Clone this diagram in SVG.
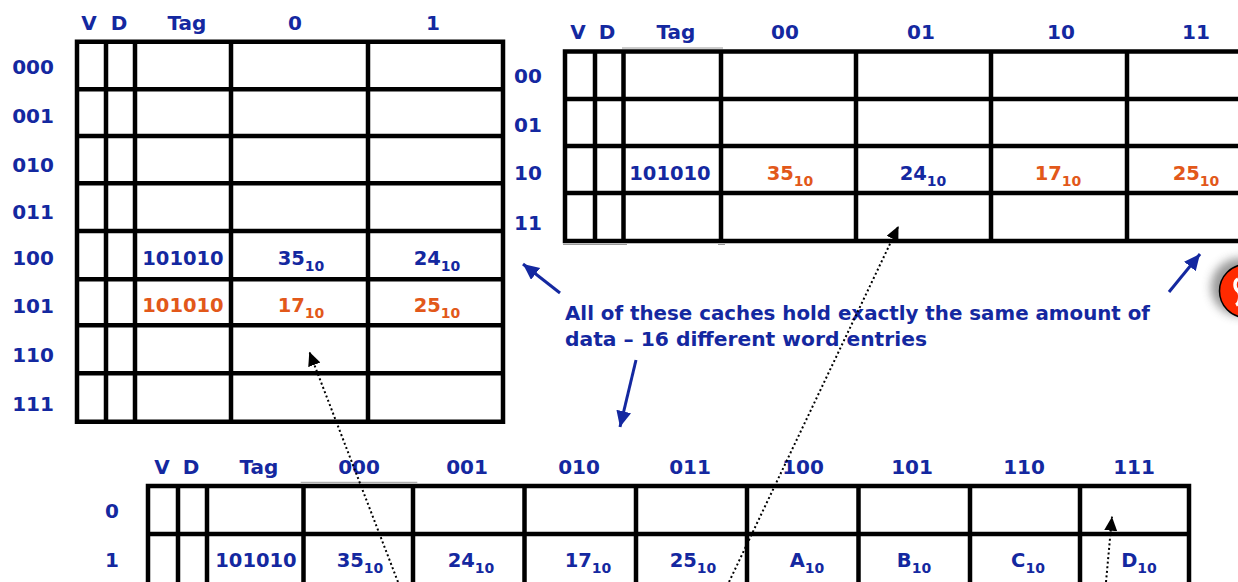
<svg xmlns="http://www.w3.org/2000/svg" width="1238" height="582" viewBox="0 0 1238 582">
<defs>
<style>
.grid{fill:none;stroke:#000;stroke-width:4.5;stroke-linecap:square}
.thin{fill:none;stroke:#9a9a9a;stroke-width:1}
text{font-family:"DejaVu Sans","Liberation Sans",sans-serif;font-weight:bold;fill:#1428a0}
.h{font-size:20px;text-anchor:middle}
.c{font-size:19.5px;text-anchor:middle}
.o{fill:#e2581a}
.s{font-size:14px}
.note{font-size:19px}
.dot{fill:none;stroke:#000;stroke-width:2;stroke-dasharray:2 2.6}
.blue{fill:none;stroke:#1428a0;stroke-width:3}
</style>
<marker id="ah" markerUnits="userSpaceOnUse" markerWidth="16" markerHeight="16" refX="14" refY="6.5" orient="auto">
<path d="M0,0 L14,6.5 L0,13 Z" fill="#000"/>
</marker>
<marker id="bh" markerUnits="userSpaceOnUse" markerWidth="18" markerHeight="18" refX="16" refY="7.5" orient="auto">
<path d="M0,0 L16,7.5 L0,15 Z" fill="#1428a0"/>
</marker>
<filter id="blur" x="-50%" y="-50%" width="200%" height="200%">
<feGaussianBlur stdDeviation="5"/>
</filter>
</defs>
<rect width="1238" height="582" fill="#fff"/>

<g id="cache-8x2">
<path class="grid" d="M77 41.7H503M77 89.3H503M77 136H503M77 183.3H503M77 231H503M77 279.3H503M77 325.3H503M77 373.3H503M77 421.7H503M77 41.7V421.7M106 41.7V421.7M135 41.7V421.7M231 41.7V421.7M368 41.7V421.7M503 41.7V421.7"/>
<text class="h" x="89" y="30">V</text>
<text class="h" x="119" y="30">D</text>
<text class="h" x="187" y="30">Tag</text>
<text class="h" x="295" y="30">0</text>
<text class="h" x="433" y="30">1</text>
<text class="h" x="33" y="74">000</text>
<text class="h" x="33" y="123">001</text>
<text class="h" x="33" y="172">010</text>
<text class="h" x="33" y="219">011</text>
<text class="h" x="33" y="265">100</text>
<text class="h" x="33" y="313">101</text>
<text class="h" x="33" y="362">110</text>
<text class="h" x="33" y="411">111</text>
<text class="c" x="183" y="265">101010</text>
<text class="c" x="301" y="265">35<tspan class="s" dy="6">10</tspan></text>
<text class="c" x="437" y="265">24<tspan class="s" dy="6">10</tspan></text>
<text class="c o" x="183" y="312">101010</text>
<text class="c o" x="301" y="312">17<tspan class="s" dy="6">10</tspan></text>
<text class="c o" x="437" y="312">25<tspan class="s" dy="6">10</tspan></text>
</g>

<g id="cache-4x4">
<path class="thin" d="M622 48H723M563 244.5H627M718 244.5H725"/>
<path class="grid" d="M565 51.5H1245M565 99H1245M565 146H1245M565 193H1245M565 241H1245M565 51.5V241M595 51.5V241M623.5 51.5V241M721 51.5V241M856 51.5V241M991 51.5V241M1127 51.5V241"/>
<text class="h" x="578" y="39">V</text>
<text class="h" x="607" y="39">D</text>
<text class="h" x="676" y="39">Tag</text>
<text class="h" x="785" y="39">00</text>
<text class="h" x="921" y="39">01</text>
<text class="h" x="1061" y="39">10</text>
<text class="h" x="1196" y="39">11</text>
<text class="h" x="528" y="83">00</text>
<text class="h" x="528" y="132">01</text>
<text class="h" x="528" y="180">10</text>
<text class="h" x="528" y="230">11</text>
<text class="c" x="670" y="180">101010</text>
<text class="c o" x="790" y="180">35<tspan class="s" dy="6">10</tspan></text>
<text class="c" x="923" y="180">24<tspan class="s" dy="6">10</tspan></text>
<text class="c o" x="1058" y="180">17<tspan class="s" dy="6">10</tspan></text>
<text class="c o" x="1196" y="180">25<tspan class="s" dy="6">10</tspan></text>
</g>

<g id="cache-2x8">
<path class="thin" d="M300.7 482.3H417.3"/>
<path class="grid" d="M148 486H1189M148 534H1189M148 486V586M178 486V586M207 486V586M303.5 486V586M413 486V586M524.5 486V586M636 486V586M747 486V586M858.5 486V586M970 486V586M1080 486V586M1189 486V586"/>
<text class="h" x="162" y="474">V</text>
<text class="h" x="191" y="474">D</text>
<text class="h" x="259" y="474">Tag</text>
<text class="h" x="359" y="474">000</text>
<text class="h" x="467" y="474">001</text>
<text class="h" x="579" y="474">010</text>
<text class="h" x="690" y="474">011</text>
<text class="h" x="803" y="474">100</text>
<text class="h" x="912" y="474">101</text>
<text class="h" x="1024" y="474">110</text>
<text class="h" x="1134" y="474">111</text>
<text class="h" x="112" y="518">0</text>
<text class="h" x="112" y="567">1</text>
<text class="c" x="256" y="567">101010</text>
<text class="c" x="360" y="567">35<tspan class="s" dy="6">10</tspan></text>
<text class="c" x="471" y="567">24<tspan class="s" dy="6">10</tspan></text>
<text class="c" x="588" y="567">17<tspan class="s" dy="6">10</tspan></text>
<text class="c" x="693" y="567">25<tspan class="s" dy="6">10</tspan></text>
<text class="c" x="807" y="567">A<tspan class="s" dy="6">10</tspan></text>
<text class="c" x="914" y="567">B<tspan class="s" dy="6">10</tspan></text>
<text class="c" x="1028" y="567">C<tspan class="s" dy="6">10</tspan></text>
<text class="c" x="1139" y="567">D<tspan class="s" dy="6">10</tspan></text>
</g>

<g id="note">
<text class="note" x="565" y="320" textLength="585" lengthAdjust="spacingAndGlyphs">All of these caches hold exactly the same amount of</text>
<text class="note" x="565" y="346" textLength="362" lengthAdjust="spacingAndGlyphs">data – 16 different word entries</text>
</g>

<g id="badge">
<circle cx="1240" cy="287" r="29" fill="#555" opacity="0.6" filter="url(#blur)"/>
<circle cx="1246" cy="291" r="26.5" fill="#ff2a00" stroke="#000" stroke-width="1.5"/>
<path d="M1238 279 C1234 281 1234 288 1238 291 C1241 294 1240 303 1236 305" fill="none" stroke="#fff" stroke-width="3.5"/>
</g>

<g id="connectors">
<line class="dot" x1="398" y1="582" x2="309.3" y2="351.7" marker-end="url(#ah)"/>
<line class="dot" x1="729" y1="582" x2="898.5" y2="226" marker-end="url(#ah)"/>
<line class="dot" x1="1106" y1="582" x2="1112" y2="516.7" marker-end="url(#ah)"/>
<line class="blue" x1="560" y1="293" x2="523" y2="264" marker-end="url(#bh)"/>
<line class="blue" x1="1169" y1="292" x2="1200" y2="254" marker-end="url(#bh)"/>
<line class="blue" x1="636" y1="360" x2="620" y2="427" marker-end="url(#bh)"/>
</g>
</svg>
